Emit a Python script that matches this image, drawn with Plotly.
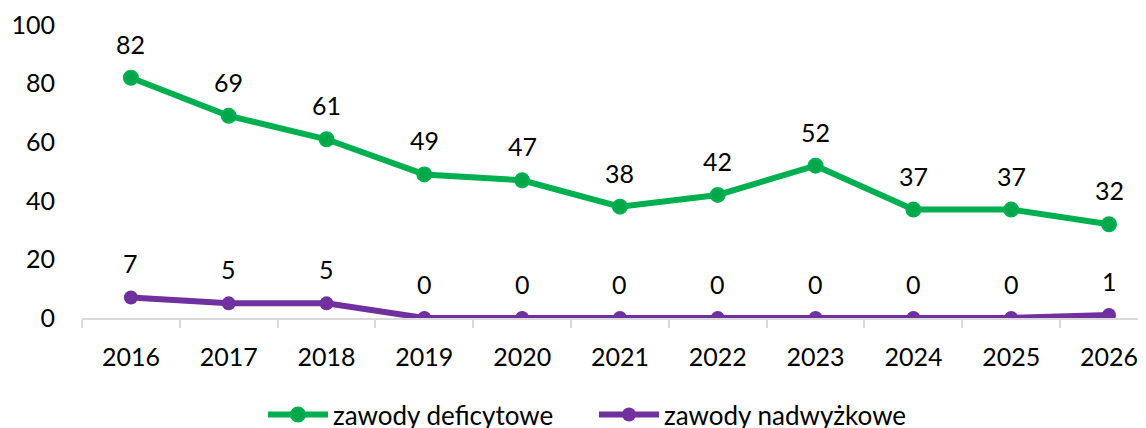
import plotly.graph_objects as go

years = ["2016", "2017", "2018", "2019", "2020", "2021", "2022", "2023", "2024", "2025", "2026"]
deficit = [82, 69, 61, 49, 47, 38, 42, 52, 37, 37, 32]
surplus = [7, 5, 5, 0, 0, 0, 0, 0, 0, 0, 1]

GREEN = "#00B050"
PURPLE = "#7030A0"
FONT = "Lato, 'Open Sans', sans-serif"

fig = go.Figure()

fig.add_trace(go.Scatter(
    x=years, y=deficit, name="zawody deficytowe", mode="lines+markers",
    line=dict(color=GREEN, width=6),
    marker=dict(size=14, color="#00A84A", line=dict(color=GREEN, width=2)),
))
fig.add_trace(go.Scatter(
    x=years, y=surplus, name="zawody nadwyżkowe", mode="lines+markers",
    line=dict(color=PURPLE, width=6),
    marker=dict(size=14, color=PURPLE),
))

# data labels above points (category index used as x position)
for series in (deficit, surplus):
    for i, y in enumerate(series):
        fig.add_annotation(x=i, y=y, xref="x", yref="y", text=str(y), showarrow=False,
                           yshift=34, font=dict(size=25, color="#000000", family=FONT))

fig.update_layout(
    width=1146, height=428,
    margin=dict(l=74, r=0, t=17, b=118),
    paper_bgcolor="white", plot_bgcolor="white",
    font=dict(family=FONT, size=25, color="#000000"),
    showlegend=True,
    legend=dict(orientation="h", xref="container", yref="container",
                x=0.2225, xanchor="left", y=0.05, yanchor="middle",
                font=dict(size=26), itemwidth=60,
                entrywidth=256, entrywidthmode="pixels"),
)
fig.update_xaxes(
    type="category", range=[-0.5, 10.46],
    showline=True, linecolor="#D9D9D9", linewidth=2,
    ticks="outside", tickson="boundaries", ticklen=8, tickcolor="#D9D9D9", tickwidth=2,
    showgrid=False, ticklabelstandoff=16,
)
fig.update_yaxes(
    range=[0, 100], dtick=20, showgrid=False, zeroline=False, showline=False,
    ticklabelstandoff=26,
)

fig.write_html("out.html")
